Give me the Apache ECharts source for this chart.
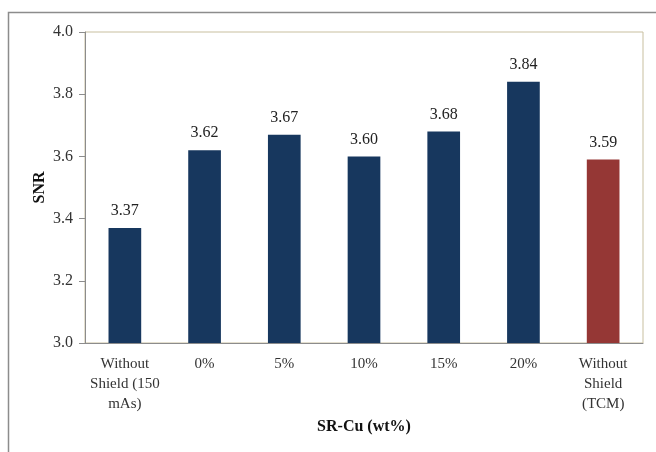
<!DOCTYPE html>
<html>
<head>
<meta charset="utf-8">
<script src="https://cdn.jsdelivr.net/npm/echarts@6/dist/echarts.min.js"></script>
<style>
  html, body { margin: 0; padding: 0; background: #fff; }
  #chart { width: 656px; height: 452px; }
</style>
</head>
<body>
<div id="chart"></div>
<script>
// SNR per shielding configuration
const categories = ['Without\nShield (150\nmAs)', '0%', '5%', '10%', '15%', '20%', 'Without\nShield\n(TCM)'];
const snrValues = [3.37, 3.62, 3.67, 3.60, 3.68, 3.84, 3.59];
const barColors = ['#17375e', '#17375e', '#17375e', '#17375e', '#17375e', '#17375e', '#953735'];
const yTicks = { min: 3.0, max: 4.0, step: 0.2 };

const serif = '"Liberation Serif", "Times New Roman", serif';
const chart = echarts.init(document.getElementById('chart'), null, { renderer: 'canvas' });

chart.setOption({
  backgroundColor: '#fff',
  animation: false,
  graphic: [{
    type: 'rect',
    shape: { x: 8.5, y: 12.5, width: 700, height: 500 },
    style: { fill: 'none', stroke: '#8c8c8c', lineWidth: 1.5 },
    silent: true,
    z: -1
  }],
  grid: {
    left: 85, top: 32, right: 13, bottom: 109,
    show: true, borderColor: '#c8bf9f', borderWidth: 1, backgroundColor: 'transparent'
  },
  xAxis: {
    type: 'category',
    data: categories,
    name: 'SR-Cu (wt%)',
    nameLocation: 'middle',
    nameGap: 76,
    nameMoveOverlap: false,
    nameTextStyle: { fontFamily: serif, fontSize: 16, fontWeight: 'bold', color: '#111' },
    axisLine: { lineStyle: { color: '#8c8c8c' } },
    axisTick: { show: false },
    axisLabel: { fontFamily: serif, fontSize: 15, color: '#333', lineHeight: 20, margin: 11, interval: 0 }
  },
  yAxis: {
    type: 'value',
    min: yTicks.min, max: yTicks.max, interval: yTicks.step,
    name: 'SNR',
    nameLocation: 'middle',
    nameGap: 37,
    nameMoveOverlap: false,
    nameTextStyle: { fontFamily: serif, fontSize: 16, fontWeight: 'bold', color: '#111' },
    axisLine: { show: true, lineStyle: { color: '#8c8c8c' } },
    axisTick: { show: true, length: 6, lineStyle: { color: '#8c8c8c' } },
    splitLine: { show: false },
    axisLabel: { fontFamily: serif, fontSize: 16, color: '#333', margin: 12, formatter: v => v.toFixed(1) }
  },
  series: [{
    type: 'bar',
    barWidth: '41%',
    data: snrValues.map((v, i) => ({ value: v, itemStyle: { color: barColors[i] } })),
    label: {
      show: true, position: 'top', distance: 9,
      fontFamily: serif, fontSize: 16, color: '#222',
      formatter: p => p.value.toFixed(2)
    }
  }]
});
</script>
</body>
</html>
